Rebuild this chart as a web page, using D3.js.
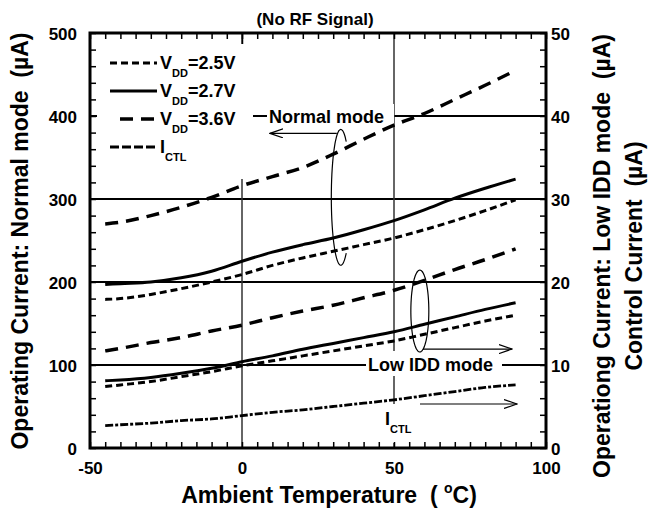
<!DOCTYPE html>
<html>
<head>
<meta charset="utf-8">
<style type="text/css">
body { margin: 0; background: #fff; }
text { font-family: "Liberation Sans", Arial, sans-serif; font-weight: bold; fill: #000; white-space: pre; }
.grid { stroke: #000; stroke-width: 2; }
.vgrid { stroke: #333; stroke-width: 1.5; }
.tick line { stroke: #000; stroke-width: 1.5; }
.domain { display: none; }
.note { stroke: #000; stroke-width: 1.2; fill: none; }
</style>
<script src="https://d3js.org/d3.v7.min.js"></script>
</head>
<body>
<script type="text/javascript">
var width = 649;
var height = 513;

// temperatures (deg C)
var temps = [-45, -40, -30, -20, -10, 0, 10, 20, 30, 40, 50, 60, 70, 80, 90];
// normal mode, left axis (uA)
var normal25 = [179, 180, 185, 192, 200, 209, 220, 229, 237, 245, 253, 263, 274, 286, 299];
var normal27 = [197, 198, 200, 205, 213, 225, 236, 245, 253, 263, 274, 287, 301, 313, 324];
var normal36 = [270, 272, 280, 290, 302, 316, 327, 338, 354, 372, 389, 403, 420, 437, 455];
// low IDD mode + control current, right axis (uA)
var low25 = [7.4, 7.6, 8.0, 8.6, 9.2, 9.9, 10.5, 11.1, 11.7, 12.3, 12.9, 13.7, 14.5, 15.3, 16.0];
var low27 = [8.1, 8.2, 8.5, 9.0, 9.6, 10.4, 11.1, 11.9, 12.6, 13.3, 14.0, 14.9, 15.8, 16.7, 17.5];
var low36 = [11.7, 12.0, 12.7, 13.3, 14.1, 14.8, 15.7, 16.5, 17.2, 18.1, 19.0, 20.2, 21.5, 22.7, 24.0];
var ictl = [2.7, 2.8, 3.0, 3.3, 3.5, 3.9, 4.3, 4.6, 5.0, 5.4, 5.8, 6.3, 6.8, 7.3, 7.6];

var xTicks = [-50, 0, 50, 100];
var leftTicks = [0, 100, 200, 300, 400, 500];
var rightTicks = [0, 10, 20, 30, 40, 50];

var x = d3.scaleLinear().domain([-50, 100]).range([90, 546]);
var yL = d3.scaleLinear().domain([0, 500]).range([448, 33]);
var yR = d3.scaleLinear().domain([0, 50]).range([448, 33]);

var svg = d3.select("body").append("svg").attr("width", width).attr("height", height);

var defs = svg.append("defs");
defs.append("marker").attr("id", "arr").attr("viewBox", "0 0 14 10")
	.attr("refX", 13).attr("refY", 5).attr("markerWidth", 14).attr("markerHeight", 10)
	.attr("markerUnits", "userSpaceOnUse").attr("orient", "auto")
	.append("path").attr("d", "M0,0.5 L13,5 L0,9.5").attr("fill", "none").attr("stroke", "#000").attr("stroke-width", 1.2);

// grid lines
svg.selectAll(".grid").data([100, 200, 300, 400]).enter().append("line")
	.attr("class", "grid")
	.attr("x1", x(-50)).attr("x2", x(100))
	.attr("y1", function(d) { return yL(d); }).attr("y2", function(d) { return yL(d); });
svg.selectAll(".vgrid").data([0, 50]).enter().append("line")
	.attr("class", "vgrid")
	.attr("x1", function(d) { return x(d); }).attr("x2", function(d) { return x(d); })
	.attr("y1", yL(500)).attr("y2", yL(0));

// white boxes behind legend / labels
svg.append("rect").attr("x", 97).attr("y", 44).attr("width", 156).attr("height", 135).attr("fill", "#fff");
svg.append("rect").attr("x", 267).attr("y", 104).attr("width", 127).attr("height", 23).attr("fill", "#fff");
svg.append("rect").attr("x", 366).attr("y", 351).attr("width", 136).attr("height", 25).attr("fill", "#fff");
svg.append("rect").attr("x", 383).attr("y", 404).attr("width", 34).attr("height", 39).attr("fill", "#fff");

// axes ticks
function minor(g) { g.selectAll("text").remove(); }
svg.append("g").attr("transform", "translate(" + x(-50) + ",0)")
	.call(d3.axisLeft(yL).tickValues(d3.range(0, 501, 20)).tickSize(-6)).call(minor);
svg.append("g").attr("transform", "translate(" + x(100) + ",0)")
	.call(d3.axisRight(yR).tickValues(d3.range(0, 51, 2)).tickSize(-6)).call(minor);
svg.append("g").attr("transform", "translate(0," + yL(0) + ")")
	.call(d3.axisBottom(x).tickValues(d3.range(-50, 101, 5)).tickSize(-6)).call(minor);
svg.append("g").attr("transform", "translate(0," + yL(500) + ")")
	.call(d3.axisTop(x).tickValues(d3.range(-50, 101, 5)).tickSize(-6)).call(minor);
svg.append("g").attr("transform", "translate(0," + yL(500) + ")")
	.call(d3.axisTop(x).tickValues([0]).tickSize(-11)).call(minor);

var fmt = function(d) { return String(d); };
svg.append("g").attr("transform", "translate(" + x(-50) + ",0)")
	.call(d3.axisLeft(yL).tickValues(leftTicks).tickSize(0).tickPadding(13).tickFormat(fmt))
	.selectAll("text").style("font-size", "17px").attr("dy", "0.36em");
svg.append("g").attr("transform", "translate(" + x(100) + ",0)")
	.call(d3.axisRight(yR).tickValues(rightTicks).tickSize(0).tickPadding(5).tickFormat(fmt))
	.selectAll("text").style("font-size", "17px").attr("dy", "0.36em");
svg.append("g").attr("transform", "translate(0," + yL(0) + ")")
	.call(d3.axisBottom(x).tickValues(xTicks).tickSize(0).tickPadding(14).tickFormat(fmt))
	.selectAll("text").style("font-size", "17px");
svg.selectAll("g text").attr("font-family", null);

// data lines
function draw(vals, y, dash, w) {
	var line = d3.line().x(function(d, i) { return x(temps[i]); }).y(function(d) { return y(d); })
		.curve(d3.curveMonotoneX);
	svg.append("path").datum(vals).attr("d", line)
		.attr("fill", "none").attr("stroke", "#000").attr("stroke-width", w)
		.attr("stroke-dasharray", dash);
}
draw(normal36, yL, "13,8", 3.5);
draw(normal27, yL, null, 3);
draw(normal25, yL, "7,4", 3);
draw(low36, yR, "13,8", 3.5);
draw(low27, yR, null, 3);
draw(low25, yR, "7,4", 3);
draw(ictl, yR, "8,2,3,2", 2.8);

// frame
svg.append("rect").attr("x", x(-50)).attr("y", yL(500))
	.attr("width", x(100) - x(-50)).attr("height", yL(0) - yL(500))
	.attr("fill", "none").attr("stroke", "#000").attr("stroke-width", 3);

// legend
var legend = [
	{ sub: "DD", lab: "=2.5V", dash: "7,4", w: 3, x0: 110 },
	{ sub: "DD", lab: "=2.7V", dash: null, w: 3, x0: 110 },
	{ sub: "DD", lab: "=3.6V", dash: "13,8", w: 3.5, x0: 120 },
	{ sub: "CTL", lab: "", dash: "9,3", w: 2.8, x0: 110 }
];
legend.forEach(function(d, i) {
	var yy = 63 + i * 28;
	svg.append("line").attr("x1", d.x0).attr("x2", 157).attr("y1", yy).attr("y2", yy)
		.attr("stroke", "#000").attr("stroke-width", d.w).attr("stroke-dasharray", d.dash);
	var t = svg.append("text").attr("x", 160).attr("y", yy + 6).style("font-size", "18px");
	t.append("tspan").text(i == 3 ? "I" : "V");
	t.append("tspan").attr("dy", 8).style("font-size", "11px").text(d.sub);
	t.append("tspan").attr("dy", -8).text(d.lab);
});

// normal mode annotation
svg.append("line").attr("class", "note").attr("stroke-width", 2).attr("x1", 253).attr("x2", 267).attr("y1", yL(400)).attr("y2", yL(400));
svg.append("text").attr("x", 269).attr("y", yL(400) + 7).style("font-size", "18px").text("Normal mode");
var ecx = x(32.5), ecy = yL(302), erx = 9.5, ery = 68;
function ell(cx, cy, rx, ry, a0, a1) {
	var pts = d3.range(a0, a1 + 1, 5).map(function(a) {
		var r = a * Math.PI / 180;
		return [cx + rx * Math.cos(r), cy + ry * Math.sin(r)];
	});
	return d3.line().curve(d3.curveBasis)(pts);
}
svg.append("path").attr("class", "note").attr("d", ell(ecx, ecy, erx, ery, 55, 305));
svg.append("line").attr("class", "note").attr("x1", ecx - 4).attr("x2", 270)
	.attr("y1", ecy - 64).attr("y2", ecy - 64).attr("marker-end", "url(#arr)");

// low IDD annotation
var lcx = x(58.5), lcy = yR(16.5);
svg.append("path").attr("class", "note").attr("d", ell(lcx, lcy, 9, 41, 80, 440));
svg.append("line").attr("class", "note").attr("x1", lcx + 3).attr("x2", 512)
	.attr("y1", lcy + 38).attr("y2", lcy + 38).attr("marker-end", "url(#arr)");
svg.append("text").attr("x", 368).attr("y", yR(10) + 6).style("font-size", "18px").text("Low IDD mode");

// ICTL annotation
var it = svg.append("text").attr("x", 385).attr("y", 425).style("font-size", "18px");
it.append("tspan").text("I");
it.append("tspan").attr("dy", 8).style("font-size", "11px").text("CTL");
svg.append("line").attr("class", "note").attr("x1", 420).attr("x2", 517)
	.attr("y1", 404).attr("y2", 404).attr("marker-end", "url(#arr)");

// titles
svg.append("text").attr("x", 315).attr("y", 25).attr("text-anchor", "middle").style("font-size", "17px").text("(No RF Signal)");
var xl = svg.append("text").attr("x", 329).attr("y", 503).attr("text-anchor", "middle").style("font-size", "23px");
xl.append("tspan").text("Ambient Temperature  ( ");
xl.append("tspan").attr("dy", -10).style("font-size", "14px").text("o");
xl.append("tspan").attr("dy", 10).text("C)");
svg.append("text").attr("transform", "translate(28,241) rotate(-90)").attr("text-anchor", "middle")
	.style("font-size", "23px").text("Operating Current: Normal mode  (\u00b5A)");
svg.append("text").attr("transform", "translate(610,256) rotate(-90)").attr("text-anchor", "middle")
	.style("font-size", "23px").text("Operationg Current: Low IDD mode  (\u00b5A)");
svg.append("text").attr("transform", "translate(642,256) rotate(-90)").attr("text-anchor", "middle")
	.style("font-size", "23px").text("Control Current  (\u00b5A)");
</script>
</body>
</html>
